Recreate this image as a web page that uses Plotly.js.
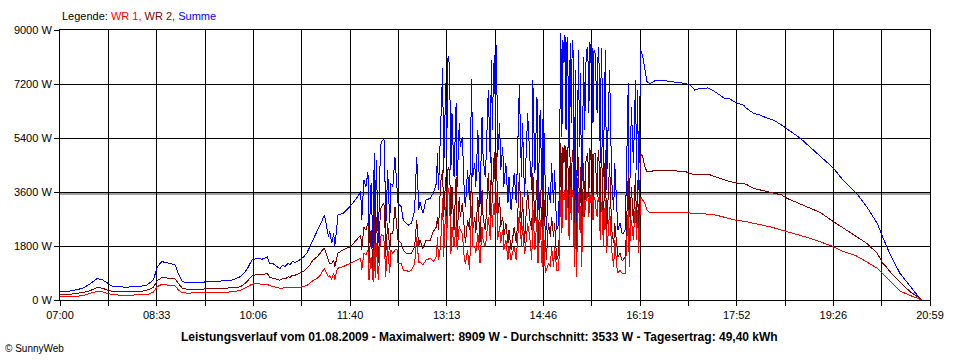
<!DOCTYPE html>
<html><head><meta charset="utf-8">
<script src="https://cdn.plot.ly/plotly-3.0.1.min.js"></script>
<style>html,body{margin:0;padding:0;background:#fff}#chart{width:960px;height:360px}#chart path.js-line{shape-rendering:crispEdges}</style>
</head><body><div id="chart"></div>
<script>
const times = ["07:00","07:10","07:22","07:29","07:36","07:41","07:46","07:51","08:05","08:17","08:24","08:30","08:34","08:38","08:46","08:51","08:54","08:58","09:03","09:28","09:47","09:54","10:00","10:05","10:10","10:15","10:20","10:22","10:26","10:29","10:32","10:35","10:37","10:40","10:42","10:44","10:47","10:51",
"10:55","10:58","11:01","11:04","11:08","11:11","11:13","11:15","11:17","11:19","11:20","11:22","11:24","11:25","11:27","11:28","11:33","11:40","11:46","11:50","11:51","11:53","11:55","11:57","11:58","12:00","12:02","12:03","12:04","12:05","12:07","12:09","12:10","12:12","12:13","12:14","12:16","12:18","12:19","12:21","12:23","12:25","12:26","12:29","12:31","12:34","12:36","12:39","12:42","12:44","12:46",
"12:47","12:50","12:53","12:57","13:00","13:03","13:04","13:05","13:07","13:09","13:10","13:12","13:13","13:14","13:15","13:16",
"13:17","13:18","13:20","13:22","13:23","13:25","13:26","13:28","13:30","13:31","13:33","13:35","13:37","13:38","13:40","13:41","13:43","13:45","13:47","13:48","13:50","13:51","13:53","13:55","13:56","13:57","13:58",
"13:59","14:00","14:01","14:02","14:04","14:05","14:07","14:08","14:10","14:12","14:13","14:15","14:17","14:18","14:20","14:21","14:23","14:25","14:26","14:28","14:29","14:31","14:33","14:35","14:36","14:38","14:40","14:41","14:43","14:45","14:46","14:48","14:49","14:51","14:53","14:54","14:56","14:57","14:59","15:01",
"15:02","15:03","15:04","15:05","15:06","15:07","15:08","15:09","15:10","15:11","15:12","15:13","15:14","15:15","15:16","15:17","15:18","15:19","15:20","15:21","15:22","15:23","15:24","15:25","15:26","15:27","15:28","15:29","15:30","15:31","15:32","15:33","15:34","15:35","15:36","15:37","15:38","15:39","15:40","15:41","15:42","15:43","15:44","15:45","15:46","15:47",
"15:49","15:50","15:52","15:54","15:55","15:57","15:58","16:00","16:02","16:03","16:05","16:06","16:08","16:09","16:10","16:11","16:13","16:14","16:15","16:16","16:17","16:18","16:20","16:22","16:24","16:26","16:29",
"16:35","16:45","16:55","17:03","17:08","17:12","17:17","17:25","17:30","17:36","17:41","17:46","17:53","17:59","18:02","18:09","18:15","18:22","18:28","18:36","18:41","18:47","18:54","19:03","19:13","19:26","19:35","19:48","19:58","20:08","20:14","20:17","20:20","20:30","20:40","20:46","20:51"];

const summe = [270,300,390,540,720,670,560,440,430,450,500,670,1110,1280,1220,1170,890,610,580,610,670,780,1000,1330,1390,1360,1440,1220,1200,1110,1040,1170,1110,1220,1170,1280,1250,1330,
1440,1560,1780,2000,2250,2500,2670,2830,2390,2110,2300,1890,2220,1780,2440,2830,2890,3130,3390,3610,2670,4000,3780,4280,1890,3890,1560,4890,2000,4670,1890,5060,5280,5360,5280,2220,4330,2560,3890,3780,4780,3890,3220,3110,2670,2560,2500,2560,3000,4780,3000,
3280,2890,3330,3390,3560,3890,4890,3670,5670,7720,4220,7220,5000,8060,8110,7000,
4330,6220,4110,6560,3780,5890,5110,5440,3440,3110,4330,3330,7360,4110,4560,3780,5670,3110,6110,4780,4110,4780,7000,4560,8000,5670,7560,
8170,5670,8500,4780,5890,4330,5110,3780,4560,3220,4110,3000,3780,4220,3220,4330,7170,4110,5890,3440,4330,6220,4780,3670,7330,4220,6780,3000,6330,3440,6670,3000,2330,3780,3220,4560,3220,4330,2330,2560,
6220,8890,5440,8670,7890,8830,5670,8780,7330,4780,8560,5890,8670,8220,3000,7670,2330,6670,8330,5110,7560,2890,6440,8110,5670,7780,8330,8440,6220,8610,7890,8560,5890,8330,8220,7220,6220,8440,7780,4560,8390,7000,4110,6560,8330,3670,
6110,7670,4000,3000,4560,2780,2330,2560,2220,2220,2330,3670,7220,2780,5560,6440,4560,6220,7330,4330,7000,3670,8330,8110,7670,7280,7220,
7330,7300,7250,7220,7160,7000,7050,7070,6980,6830,6720,6700,6560,6500,6390,6220,6170,6060,6000,5830,5720,5560,5390,5110,4780,4390,4000,3560,3110,2560,2050,1800,1560,890,440,190,0];

const wr2 = [170,190,250,310,420,390,330,280,270,280,330,420,650,740,730,700,560,390,360,370,410,440,600,800,850,840,890,760,720,690,660,720,700,770,760,820,830,890,
960,1060,1170,1330,1440,1560,1670,1720,1500,1330,1220,1200,1330,1100,1440,1560,1670,1780,2000,2170,1670,2440,2330,2560,1220,2330,950,3000,1280,2780,1220,3000,3110,3220,3110,1440,2560,1670,2220,2220,3110,2220,2000,1890,1670,1560,1560,1560,1780,2670,1780,
2000,1720,2000,2000,2280,2440,2780,2330,3890,4330,2780,4110,3000,4330,4440,4000,
2780,3780,2330,4110,2110,3440,2780,3220,2110,1890,2670,2330,4220,2330,2780,2220,3440,1890,3670,2780,2330,2780,4220,2560,4780,3220,4440,
4940,3220,4890,2780,3440,2440,2780,2110,2560,1890,2330,1670,2110,2440,1890,2440,4220,2330,3440,1890,2560,3670,2670,2330,4220,2560,4000,1780,3670,2330,4000,2110,1330,2560,2110,2780,2110,2560,1330,1560,
3670,5220,3220,5110,4560,5170,3000,5110,4330,2780,4780,3220,5000,4780,1890,4330,1560,3890,4780,2780,4440,1780,3670,4560,2780,4560,4780,4890,3440,5060,4670,5000,3220,4890,4890,4220,3440,5000,4560,2560,5110,4110,2330,3890,5000,2110,
3780,4560,2330,1890,2560,1670,1440,1560,1330,1330,1440,2110,4220,1670,3220,3780,2560,3440,4220,2330,4000,2110,4890,4780,4440,4280,4280,
4330,4330,4300,4280,4220,4170,4200,4200,4130,4050,4000,3950,3900,3890,3850,3720,3670,3610,3580,3500,3390,3300,3220,3080,2920,2610,2400,2110,1890,1560,1200,1100,960,600,270,130,0];

const wr1 = [100,110,140,220,290,270,220,170,160,170,180,260,450,520,500,470,340,240,230,240,270,330,420,530,550,520,520,480,450,420,390,400,400,420,410,420,420,420,
450,480,560,650,720,830,950,1060,890,780,800,690,890,680,1000,1060,1110,1220,1330,1390,1000,1560,1500,1670,670,1440,610,1890,720,1890,670,2060,2170,2140,1780,780,1780,890,1670,1560,1670,1670,1220,1220,1000,1000,940,1000,1220,2110,1220,
1280,1170,1330,1390,1280,1450,2110,1330,1780,3390,1440,3110,2000,3730,3670,3000,
1550,2440,1780,2450,1670,2450,2330,2220,1330,1220,1660,1000,3140,1780,1780,1560,2230,1220,2440,2000,1780,2000,2780,2000,3220,2450,3120,
3230,2450,3610,2000,2450,1890,2330,1670,2000,1330,1780,1330,1670,1780,1330,1890,2950,1780,2450,1550,1770,2550,2110,1340,3110,1660,2780,1220,2660,1110,2670,890,1000,1220,1110,1780,1110,1770,1000,1000,
2550,3670,2220,3560,3330,3660,2670,3670,3000,2000,3780,2670,3670,3440,1110,3340,780,2780,3550,2330,3120,1110,2770,3550,2890,3220,3550,3550,2780,3550,3220,3560,2670,3440,3330,3000,2780,3440,3220,2000,3280,2890,1780,2670,3330,1560,
2330,3110,1670,1110,2000,1110,890,1000,890,890,890,1560,3000,1110,2340,2660,2000,2780,3110,2000,3000,1560,3440,3330,3230,3000,2910,
2910,2920,2920,2910,2900,2880,2880,2860,2850,2800,2760,2720,2650,2630,2610,2560,2520,2460,2410,2330,2280,2220,2170,2060,1940,1780,1620,1470,1270,1060,850,750,640,300,150,70,0];

const tickLabels = ["07:00","08:33","10:06","11:40","13:13","14:46","16:19","17:52","19:26","20:59"];
const yTicks = [0,1800,3600,5400,7200,9000];
const average = 3533;
const titleText = "Leistungsverlauf vom 01.08.2009 - Maximalwert: 8909 W - Durchschnitt: 3533 W - Tagesertrag: 49,40 kWh";

function toMin(s){const p=s.split(":");return (+p[0])*60+(+p[1])-420;}
const order = times.map((t,i)=>i).sort((a,b)=>toMin(times[a])-toMin(times[b]));
const xs = order.map(i=>toMin(times[i]));
const pick = arr => order.map(i=>arr[i]);
const span = toMin(tickLabels[tickLabels.length-1]);
const step = span/18;
const tv=[], tt=[];
for(let k=0;k<=18;k++){tv.push(k*step);tt.push(k%2===0?tickLabels[k/2]:"");}

const font = {family:"Liberation Sans, Arial, sans-serif", size:11, color:"#000"};
const traces = [
  {x:xs,y:pick(summe),type:"scatter",mode:"lines",line:{color:"#0000ff",width:1},name:"Summe"},
  {x:xs,y:pick(wr2),type:"scatter",mode:"lines",line:{color:"#800000",width:1},name:"WR 2"},
  {x:xs,y:pick(wr1),type:"scatter",mode:"lines",line:{color:"#ff0000",width:1},name:"WR 1"}
];
const layout = {
  width:960,height:360,margin:{l:60,r:30,t:30,b:60},
  paper_bgcolor:"#fff",plot_bgcolor:"#fff",showlegend:false,font:font,
  xaxis:{range:[0,span],tickmode:"array",tickvals:tv,ticktext:tt,showgrid:true,gridcolor:"#000",gridwidth:1,
    showline:true,linecolor:"#000",linewidth:1,mirror:true,ticks:"outside",ticklen:5,tickcolor:"#000",zeroline:false,tickfont:font},
  yaxis:{range:[0,9000],tickmode:"array",tickvals:yTicks,ticktext:yTicks.map(v=>v+" W"),showgrid:true,gridcolor:"#000",gridwidth:1,
    showline:true,linecolor:"#000",linewidth:1,mirror:true,ticks:"outside",ticklen:5,tickcolor:"#000",zeroline:false,tickfont:font},
  shapes:[{type:"line",xref:"paper",x0:0,x1:1,yref:"y",y0:average,y1:average,line:{color:"#808080",width:1.5},layer:"below"}],
  annotations:[
    {xref:"paper",yref:"paper",x:0,y:1.052,xanchor:"left",yanchor:"middle",showarrow:false,font:font,
     text:'Legende: <span style="color:#ff0000">WR 1, </span><span style="color:#800000">WR 2, </span><span style="color:#0000ff">Summe</span>'},
    {xref:"paper",yref:"paper",x:0.482,y:-0.137,xanchor:"center",yanchor:"middle",showarrow:false,
     font:{family:"Liberation Sans, Arial, sans-serif",size:12,color:"#000"},text:"<b>"+titleText+"</b>"},
    {xref:"paper",yref:"paper",x:-0.066,y:-0.178,xanchor:"left",yanchor:"middle",showarrow:false,
     font:{family:"Liberation Sans, Arial, sans-serif",size:10,color:"#000"},text:"© SunnyWeb"}
  ]
};
Plotly.newPlot("chart",traces,layout,{staticPlot:true,displayModeBar:false});
</script></body></html>
